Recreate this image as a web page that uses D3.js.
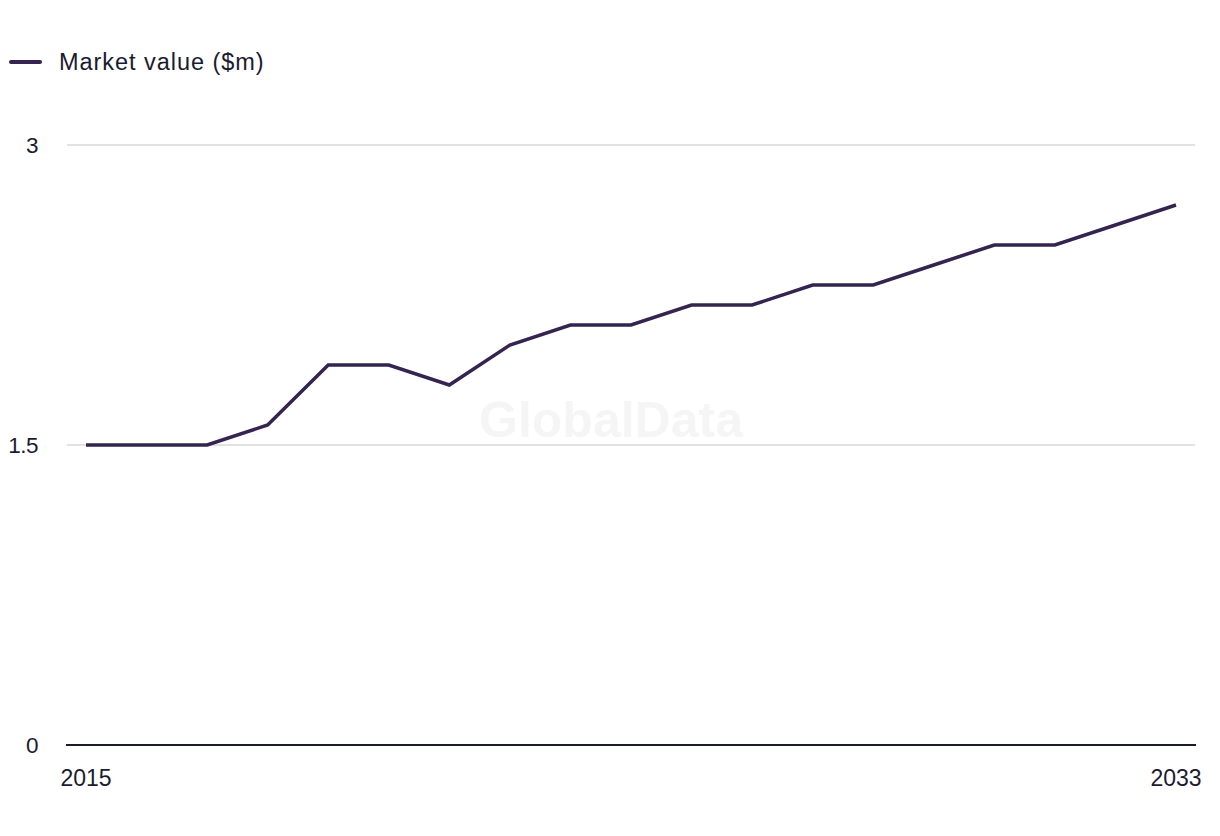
<!DOCTYPE html>
<html><head><meta charset="utf-8">
<script src="https://cdn.jsdelivr.net/npm/d3@7"></script>
<style>body{margin:0;background:#fff;}svg{display:block;font-family:"Liberation Sans",Arial,sans-serif;}</style>
</head><body>
<svg id="c" width="1220" height="836"></svg>
<script>
const years = [2015,2016,2017,2018,2019,2020,2021,2022,2023,2024,2025,2026,2027,2028,2029,2030,2031,2032,2033];
const marketValue = [1.5,1.5,1.5,1.6,1.9,1.9,1.8,2.0,2.1,2.1,2.2,2.2,2.3,2.3,2.4,2.5,2.5,2.6,2.7];
const yTicks = [0,1.5,3];
const xTickLabels = ["2015","2033"];
const seriesName = "Market value ($m)";

const svg = d3.select("#c");
const lineColor = "#35244f", textColor = "#1b1b2f";
const x = d3.scaleLinear().domain([2015,2033]).range([86,1176]);
const y = d3.scaleLinear().domain([0,3]).range([745,145]);

// watermark
svg.append("text").attr("x",611).attr("y",437).attr("text-anchor","middle")
  .attr("font-size",50).attr("font-weight","bold").attr("fill","#f5f5f5").text("GlobalData");

// grid
svg.selectAll(".grid").data(yTicks.filter(d=>d>0)).join("line")
  .attr("x1",67).attr("x2",1195).attr("y1",d=>y(d)).attr("y2",d=>y(d))
  .attr("stroke","#d9d9d9").attr("stroke-width",1.5);
// baseline
svg.append("line").attr("x1",66).attr("x2",1196).attr("y1",y(0)).attr("y2",y(0))
  .attr("stroke",textColor).attr("stroke-width",2);

// y labels
svg.selectAll(".yl").data(yTicks).join("text")
  .attr("x",38).attr("y",d=>y(d)).attr("dy","0.35em").attr("text-anchor","end")
  .attr("font-size",22.5).attr("letter-spacing",-0.5).attr("fill",textColor).text(d=>d);
// x labels
svg.selectAll(".xl").data(xTickLabels).join("text")
  .attr("x",d=>x(+d)).attr("y",786).attr("text-anchor","middle")
  .attr("font-size",23).attr("fill",textColor).text(d=>d);

// line
const line = d3.line().x((d,i)=>x(years[i])).y(d=>y(d));
svg.append("path").datum(marketValue).attr("d",line).attr("fill","none")
  .attr("stroke",lineColor).attr("stroke-width",3.5).attr("stroke-linejoin","miter");

// legend
svg.append("line").attr("x1",11).attr("x2",40).attr("y1",62).attr("y2",62)
  .attr("stroke",lineColor).attr("stroke-width",4).attr("stroke-linecap","round");
svg.append("text").attr("x",59).attr("y",62).attr("dy","0.35em")
  .attr("font-size",23.5).attr("letter-spacing",0.95).attr("fill",textColor).text(seriesName);
</script>
</body></html>
